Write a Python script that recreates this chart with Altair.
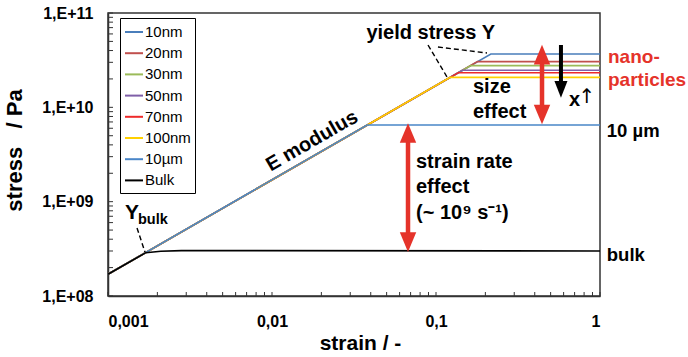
import altair as alt
import pandas as pd

FONT = "Liberation Sans"
RED = "#e5332a"

# ---- curves -------------------------------------------------------------
series = ["10nm", "20nm", "30nm", "50nm", "70nm", "100nm", "10µm", "Bulk"]
colors = ["#4a7ebb", "#c0504d", "#9bbb59", "#7f5fa8", "#ee2a2a", "#ffd000", "#4a86c8", "#000000"]

start_strain = 0.001
start_stress = 1.7e8
end_strain = 1.0
# yield strain and plateau stress of the sized specimens
yield_strain = [0.216, 0.179, 0.163, 0.145, 0.137, 0.122, 0.038]
plateau_stress = [3.68e10, 3.05e10, 2.77e10, 2.47e10, 2.33e10, 2.08e10, 6.5e9]
# bulk material: short elastic part, smooth yield, flat plateau
bulk_strain = [0.001, 0.0017, 0.0021, 0.0028, 0.004, 1.0]
bulk_stress = [1.7e8, 2.88e8, 2.98e8, 3.03e8, 3.03e8, 3.0e8]

rows = []
for i, name in enumerate(series[:-1]):
    pts = [(start_strain, start_stress),
           (yield_strain[i], plateau_stress[i]),
           (end_strain, plateau_stress[i])]
    for k, (e, s) in enumerate(pts):
        rows.append({"series": name, "strain": e, "stress": s, "k": k})
for k, (e, s) in enumerate(zip(bulk_strain, bulk_stress)):
    rows.append({"series": "Bulk", "strain": e, "stress": s, "k": k})
curves = pd.DataFrame(rows)

# ---- axes ---------------------------------------------------------------
x_domain = [0.001, 1]
y_domain = [1e8, 1e11]
x_ticks = [0.001, 0.01, 0.1, 1]
y_ticks = [1e8, 1e9, 1e10, 1e11]
x_minor = [m * 10.0 ** d for d in (-3, -2, -1) for m in range(1, 10)] + [1.0]
y_minor = [m * 10.0 ** d for d in (8, 9, 10) for m in range(1, 10)] + [1e11]

W, H = 492, 283

xs = alt.Scale(type="log", domain=x_domain)
ys = alt.Scale(type="log", domain=y_domain)


def X(field):
    return alt.X(field, type="quantitative", scale=xs)


def Y(field):
    return alt.Y(field, type="quantitative", scale=ys)


lines = alt.Chart(curves).mark_line(strokeWidth=1.6, clip=True).encode(
    x=alt.X("strain:Q", scale=xs,
            axis=alt.Axis(values=x_ticks, ticks=False, tickSize=0, grid=False,
                          labelExpr="replace(format(datum.value, '~g'), '.', ',')",
                          labelPadding=17, title="strain / -",
                          titleX=252, titleY=47, titleBaseline="middle")),
    y=alt.Y("stress:Q", scale=ys,
            axis=alt.Axis(values=y_ticks, ticks=False, tickSize=0, grid=False,
                          labelExpr="'1,E+' + (round(log(datum.value) / LN10) < 10 ? '0' : '') + round(log(datum.value) / LN10)",
                          labelPadding=15, title="stress\u00a0\u00a0\u00a0/\u00a0Pa",
                          titleX=-94, titleY=137, titleAngle=270, titleFontSize=22,
                          titleAlign="center", titleBaseline="middle")),
    color=alt.Color("series:N", scale=alt.Scale(domain=series, range=colors),
                    legend=alt.Legend(title=None, orient="none", legendX=12, legendY=5,
                                      symbolType="stroke", symbolSize=324,
                                      symbolStrokeWidth=2, labelFontSize=15,
                                      labelFont=FONT, labelColor="black",
                                      labelOffset=1, rowPadding=3.2, padding=4,
                                      strokeColor="black", fillColor="white")),
    order="k:Q",
    detail="series:N",
)

# inward minor ticks
yt = alt.Chart(pd.DataFrame({"v": y_minor})).mark_rule(color="#333", strokeWidth=1).encode(
    y=Y("v"), x=alt.value(0), x2=alt.value(5))
xt = alt.Chart(pd.DataFrame({"v": x_minor})).mark_rule(color="#333", strokeWidth=1).encode(
    x=X("v"), y=alt.value(H), y2=alt.value(H - 4))

# ---- annotations --------------------------------------------------------
dashes = pd.DataFrame({
    "x": [0.0894, 0.1028, 0.001503],
    "y": [4.58e10, 4.36e10, 5.26e8],
    "x2": [0.1167, 0.2046, 0.00168],
    "y2": [2.1e10, 3.77e10, 2.93e8],
})
dash = alt.Chart(dashes).mark_rule(color="black", strokeWidth=1.4, strokeDash=[5, 3]).encode(
    x=X("x"), y=Y("y"), x2="x2:Q", y2="y2:Q")

# double-headed red arrows and the black size arrow
arrows = pd.DataFrame({
    "x": [0.443, 0.0675],
    "top": [4.6e10, 6.8e9],
    "bottom": [6.6e9, 2.93e8],
})
shaft = alt.Chart(arrows).mark_rule(color=RED, strokeWidth=4.5, yOffset=15, y2Offset=-15).encode(
    x=X("x"), y=Y("top"), y2="bottom:Q")
head_up = alt.Chart(arrows).mark_point(shape="M0,0L1,2.4L-1,2.4Z", filled=True, opacity=1,
                                       color=RED, size=270, strokeWidth=0).encode(
    x=X("x"), y=Y("top"))
head_dn = alt.Chart(arrows).mark_point(shape="M0,0L1,-2.4L-1,-2.4Z", filled=True, opacity=1,
                                       color=RED, size=270, strokeWidth=0).encode(
    x=X("x"), y=Y("bottom"))

size_arrow = pd.DataFrame({"x": [0.578], "top": [4.58e10], "bottom": [1.26e10]})
k_shaft = alt.Chart(size_arrow).mark_rule(color="black", strokeWidth=4, y2Offset=-14).encode(
    x=X("x"), y=Y("top"), y2="bottom:Q")
k_head = alt.Chart(size_arrow).mark_point(shape="M0,0L1,-2.6L-1,-2.6Z", filled=True, opacity=1,
                                          color="black", size=170, strokeWidth=0).encode(
    x=X("x"), y=Y("bottom"))

labels = pd.DataFrame({
    "text": ["size", "effect", "x", "nano-", "particles", "10 µm", "bulk",
             "strain rate", "effect", "(~ 10⁹ s⁻¹)", "Y", "bulk"],
    "x": [0.168, 0.168, 0.647, 1.119, 1.119, 1.10, 1.10,
          0.0755, 0.0755, 0.0755, 0.00127, 0.001524],
    "y": [1.64e10, 8.92e9, 1.2e10, 3.42e10, 1.95e10, 5.61e9, 2.72e8,
          2.63e9, 1.43e9, 7.59e8, 7.59e8, 6.4e8],
    "fs": [20, 20, 20, 19, 19, 18.5, 18.5, 20, 20, 20, 21, 14.5],
    "col": ["black", "black", "black", RED, RED, "black", "black",
            "black", "black", "black", "black", "black"],
})
txt = alt.Chart(labels).mark_text(align="left", baseline="middle", font=FONT,
                                  fontWeight="bold").encode(
    x=X("x"), y=Y("y"),
    text="text:N", size=alt.Size("fs:Q", scale=None, legend=None),
    color=alt.Color("col:N", scale=None, legend=None))

# thin upward arrow after the "x"
up_arrow = alt.Chart(pd.DataFrame({"text": ["↑"], "x": [0.74], "y": [1.3e10]})).mark_text(
    align="left", baseline="middle", font="DejaVu Sans", fontSize=20, color="black").encode(
    x=X("x"), y=Y("y"), text="text:N")

yield_lbl = alt.Chart(pd.DataFrame({"text": ["yield stress Y"], "x": [0.229], "y": [6.14e10]})).mark_text(
    align="right", baseline="middle", font=FONT, fontWeight="bold", fontSize=20, color="black").encode(
    x=X("x"), y=Y("y"), text="text:N")

emod = alt.Chart(pd.DataFrame({"text": ["E modulus"], "x": [0.01754], "y": [4.4e9]})).mark_text(
    align="center", baseline="middle", font=FONT, fontWeight="bold", fontSize=20,
    color="black", angle=330).encode(
    x=X("x"), y=Y("y"), text="text:N")

chart = alt.layer(lines, yt, xt, dash, shaft, head_up, head_dn, k_shaft, k_head,
                  txt, up_arrow, yield_lbl, emod).properties(
    width=W, height=H,
    autosize=alt.AutoSizeParams(type="none"),
    padding={"left": 108, "top": 13, "right": 88, "bottom": 61},
    background="white",
).configure_view(stroke="#333", strokeWidth=1.5).configure_axis(
    labelFont=FONT, labelFontSize=16, labelFontWeight="bold", labelColor="black",
    titleFont=FONT, titleFontSize=21, titleFontWeight="bold", titleColor="black",
    domainColor="#333", domainWidth=1.5,
)

chart.save("out.html", embed_options={"renderer": "svg", "actions": False})
